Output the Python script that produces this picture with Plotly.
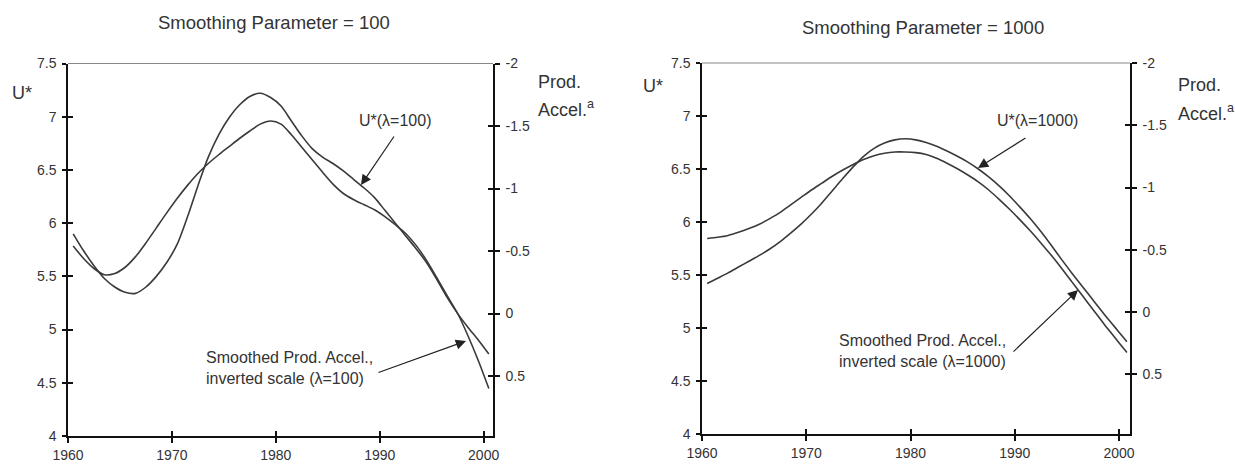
import plotly.graph_objects as go

# ---------------- data ----------------
years_l = [1960.5 + i for i in range(41)]  # 1960.5 .. 2000.5
ustar_100 = [5.90, 5.74, 5.60, 5.48, 5.40, 5.35, 5.34, 5.40, 5.50, 5.63,
             5.80, 6.06, 6.35, 6.62, 6.83, 6.99, 7.11, 7.19, 7.22, 7.18,
             7.10, 6.96, 6.82, 6.70, 6.62, 6.56, 6.49, 6.41, 6.33, 6.24,
             6.12, 6.00, 5.88, 5.76, 5.63, 5.47, 5.30, 5.15, 5.02, 4.90,
             4.77]
prod_100 = [-0.54, -0.44, -0.36, -0.31, -0.32, -0.37, -0.455, -0.565, -0.685, -0.805,
            -0.92, -1.025, -1.12, -1.20, -1.27, -1.335, -1.40, -1.46, -1.515, -1.54,
            -1.515, -1.43, -1.33, -1.23, -1.13, -1.035, -0.96, -0.91, -0.87, -0.83,
            -0.775, -0.71, -0.64, -0.545, -0.425, -0.285, -0.14, 0.00, 0.18, 0.38,
            0.60]

years_r = [1960.5 + i for i in range(41)] + [2000.75]
ustar_1000 = [5.42, 5.47, 5.52, 5.575, 5.63, 5.685, 5.745, 5.815, 5.895, 5.98,
              6.075, 6.18, 6.295, 6.41, 6.52, 6.62, 6.695, 6.745, 6.775, 6.785,
              6.775, 6.75, 6.715, 6.67, 6.62, 6.565, 6.50, 6.425, 6.34, 6.245,
              6.14, 6.03, 5.91, 5.78, 5.645, 5.515, 5.39, 5.265, 5.14, 5.02,
              4.90, 4.87]
prod_1000 = [-0.59, -0.60, -0.615, -0.64, -0.67, -0.705, -0.75, -0.80, -0.86, -0.92,
             -0.98, -1.035, -1.09, -1.14, -1.185, -1.225, -1.255, -1.275, -1.285, -1.285,
             -1.28, -1.265, -1.235, -1.195, -1.15, -1.10, -1.045, -0.98, -0.905, -0.825,
             -0.74, -0.65, -0.555, -0.455, -0.35, -0.24, -0.13, -0.02, 0.09, 0.195,
             0.30, 0.325]

x_ticks = [1960, 1970, 1980, 1990, 2000]
u_ticks = [4, 4.5, 5, 5.5, 6, 6.5, 7, 7.5]
u_ticktext = ["4", "4.5", "5", "5.5", "6", "6.5", "7", "7.5"]
p_ticks = [-2, -1.5, -1, -0.5, 0, 0.5]
p_ticktext = ["-2", "-1.5", "-1", "-0.5", "0", "0.5"]

titles = ["Smoothing Parameter = 100", "Smoothing Parameter = 1000"]

# ---------------- style ----------------
FONT = "Liberation Sans, Arial, sans-serif"
TXT = "#333333"
LINE = "#3a3a3a"
W, H = 1235, 465

def px(x):
    return x / W

def py(y):
    return 1 - y / H

fig = go.Figure()

line_style = dict(color=LINE, width=1.6, shape="spline", smoothing=0.8)

fig.add_trace(go.Scatter(x=years_l, y=ustar_100, mode="lines", line=line_style,
                         xaxis="x", yaxis="y", showlegend=False))
fig.add_trace(go.Scatter(x=years_l, y=prod_100, mode="lines", line=line_style,
                         xaxis="x", yaxis="y2", showlegend=False))
fig.add_trace(go.Scatter(x=years_r, y=ustar_1000, mode="lines", line=line_style,
                         xaxis="x2", yaxis="y3", showlegend=False))
fig.add_trace(go.Scatter(x=years_r, y=prod_1000, mode="lines", line=line_style,
                         xaxis="x2", yaxis="y4", showlegend=False))

# empty traces to register overlay (inner tick) axes
for xa, ya in [("x3", "y"), ("x", "y5"), ("x", "y6"),
               ("x4", "y3"), ("x2", "y7"), ("x2", "y8")]:
    fig.add_trace(go.Scatter(x=[None], y=[None], xaxis=xa, yaxis=ya,
                             showlegend=False, hoverinfo="skip"))

dom_l = [px(68), px(493)]
dom_r = [px(702), px(1130)]
ydom_l = [py(436), py(63.5)]
ydom_r = [py(434), py(63)]
xr_l = [1960, 2000.9]
xr_r = [1960, 2001.05]
p_range = [0.98, -2]

tickfont = dict(family=FONT, size=14, color=TXT)

def xax(domain, rng, anchor, inner=False, overlay=None):
    d = dict(range=rng, tickvals=x_ticks, ticktext=[str(v) for v in x_ticks],
             showgrid=False, zeroline=False, tickfont=tickfont, automargin=False,
             ticklen=5, tickwidth=1.5, tickcolor="#111", anchor=anchor)
    if inner:
        d.update(ticks="inside", showticklabels=False, showline=False, overlaying=overlay)
    else:
        d.update(domain=domain, ticks="outside", showline=True, linecolor="#111", linewidth=1.5)
    return d

def yax(domain, rng, vals, text, anchor, side, inner=False, overlay=None, main=False):
    d = dict(range=rng, tickvals=vals, ticktext=text, showgrid=False, zeroline=False,
             tickfont=tickfont, tickwidth=1.5, tickcolor="#111", anchor=anchor, side=side,
             automargin=False)
    if inner:
        d.update(ticks="inside", ticklen=5, showticklabels=False, showline=False, overlaying=overlay)
    else:
        d.update(ticks="outside", ticklen=4 if side == "left" else 5, showline=True,
                 linecolor="#111", linewidth=1.5, ticklabelstandoff=3)
        if main:
            d.update(domain=domain)
        else:
            d.update(overlaying=overlay)
    return d

fig.update_layout(
    width=W, height=H,
    margin=dict(l=0, r=0, t=0, b=0, autoexpand=False),
    paper_bgcolor="white", plot_bgcolor="white",
    font=dict(family=FONT, color=TXT),
    xaxis=xax(dom_l, xr_l, "y"),
    xaxis3=xax(dom_l, xr_l, "y", inner=True, overlay="x"),
    xaxis2=xax(dom_r, xr_r, "y3"),
    xaxis4=xax(dom_r, xr_r, "y3", inner=True, overlay="x2"),
    yaxis=yax(ydom_l, [4, 7.5], u_ticks, u_ticktext, "x", "left", main=True),
    yaxis5=yax(ydom_l, [4, 7.5], u_ticks, u_ticktext, "x", "left", inner=True, overlay="y"),
    yaxis2=yax(ydom_l, p_range, p_ticks, p_ticktext, "x", "right", overlay="y"),
    yaxis6=yax(ydom_l, p_range, p_ticks, p_ticktext, "x", "right", inner=True, overlay="y"),
    yaxis3=yax(ydom_r, [4, 7.5], u_ticks, u_ticktext, "x2", "left", main=True),
    yaxis7=yax(ydom_r, [4, 7.5], u_ticks, u_ticktext, "x2", "left", inner=True, overlay="y3"),
    yaxis4=yax(ydom_r, p_range, p_ticks, p_ticktext, "x2", "right", overlay="y3"),
    yaxis8=yax(ydom_r, p_range, p_ticks, p_ticktext, "x2", "right", inner=True, overlay="y3"),
)

# gray top border of each panel
for xref, yref in [("x domain", "y domain"), ("x2 domain", "y3 domain")]:
    fig.add_shape(type="line", xref=xref, yref=yref, x0=0, x1=1, y0=1, y1=1,
                  line=dict(color="#888888", width=1.2))

ann = []
def text(x, y, s, size=16, xanchor="center", align="center"):
    ann.append(dict(x=px(x), y=py(y), xref="paper", yref="paper", text=s,
                    showarrow=False, xanchor=xanchor, yanchor="middle", align=align,
                    font=dict(family=FONT, size=size, color=TXT)))

def arrow(tipx, tipy, tailx, taily):
    ann.append(dict(x=px(tipx), y=py(tipy), xref="paper", yref="paper", text="",
                    showarrow=True, ax=tailx - tipx, ay=taily - tipy,
                    arrowhead=2, arrowsize=1.7, arrowwidth=1.2, arrowcolor="#222",
                    standoff=0, startstandoff=0))

# titles
text(273.5, 23, titles[0], size=18.5)
text(923, 28, titles[1], size=18.5)
# axis labels
text(22, 93, "U*", size=18)
text(536, 82, "Prod.", size=18, xanchor="left")
text(536, 108, "Accel.<sup>a</sup>", size=18, xanchor="left")
text(653, 86, "U*", size=18)
text(1176, 85, "Prod.", size=18, xanchor="left")
text(1176, 112, "Accel.<sup>a</sup>", size=18, xanchor="left")
# curve labels
text(395, 120, "U*(λ=100)", size=16)
text(204, 367.5, "Smoothed Prod. Accel.,<br>inverted scale (λ=100)", size=16,
     xanchor="left", align="left")
text(1037, 120, "U*(λ=1000)", size=16)
text(837, 350.5, "Smoothed Prod. Accel.,<br>inverted scale (λ=1000)", size=16,
     xanchor="left", align="left")
# arrows
arrow(361, 185, 395, 135)
arrow(466, 341, 377, 373)
arrow(978, 168, 1027, 137)
arrow(1078, 290, 1012, 353)

fig.update_layout(annotations=ann)

fig.write_html(
    "out.html",
    config={"displayModeBar": False},
    post_script="document.body.style.margin='0';document.body.style.overflow='hidden';",
)
